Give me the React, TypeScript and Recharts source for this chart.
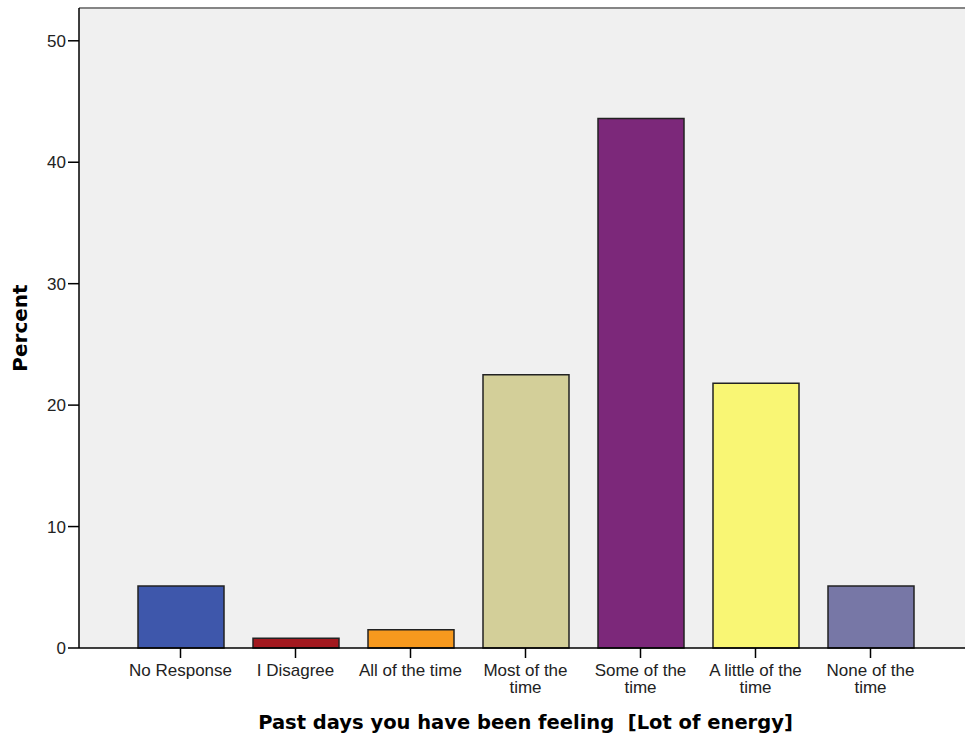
import React from 'react';
import { BarChart, Bar, XAxis, YAxis, Cell, ReferenceLine, CartesianGrid } from 'recharts';

const categories = [
  'No Response',
  'I Disagree',
  'All of the time',
  'Most of the time',
  'Some of the time',
  'A little of the time',
  'None of the time',
];
const tickLines: string[][] = [
  ['No Response'],
  ['I Disagree'],
  ['All of the time'],
  ['Most of the', 'time'],
  ['Some of the', 'time'],
  ['A little of the', 'time'],
  ['None of the', 'time'],
];
const percents = [5.1, 0.8, 1.5, 22.5, 43.6, 21.8, 5.1];
const barColors = ['#3E57AB', '#A2191F', '#F7991E', '#D3CF99', '#7C287A', '#F9F674', '#7777A6'];
const yTicks = [0, 10, 20, 30, 40, 50];
const yMax = 52.7;
const xTitle = 'Past days you have been feeling  [Lot of energy]';
const yTitle = 'Percent';

const data = categories.map((c, i) => ({ name: c, value: percents[i] }));

const tickFont = '"Liberation Sans", Arial, sans-serif';
const titleFont = '"DejaVu Sans", Verdana, sans-serif';

const XTick = (props: any) => {
  const { x, y, payload } = props;
  const idx = categories.indexOf(payload.value);
  const lines = idx >= 0 ? tickLines[idx] : [String(payload.value)];
  return (
    <g>
      {lines.map((ln, i) => (
        <text
          key={i}
          x={x}
          y={y + 16 + i * 17}
          textAnchor="middle"
          fontFamily={tickFont}
          fontSize={17}
          fill="#222"
        >
          {ln}
        </text>
      ))}
    </g>
  );
};

export default function App() {
  return (
    <div style={{ position: 'absolute', left: 0, top: 0, width: 965, height: 742, overflow: 'hidden', background: '#fff' }}>
      <BarChart
        width={1000}
        height={742}
        data={data}
        margin={{ top: 8, right: 28, bottom: 0, left: 0 }}
        barSize={86}
      >
        <CartesianGrid fill="#F0F0F0" horizontal={false} vertical={false} />
        <XAxis
          dataKey="name"
          height={94}
          padding={{ left: 44, right: 44 }}
          tickSize={10}
          tickMargin={2}
          axisLine={{ stroke: '#000', strokeWidth: 1.5 }}
          tickLine={{ stroke: '#000', strokeWidth: 1.5 }}
          tick={<XTick />}
          interval={0}
          label={(p: any) => {
            const vb = p.viewBox;
            return (
              <text
                x={vb.x + vb.width / 2}
                y={vb.y + 81}
                textAnchor="middle"
                fontFamily={titleFont}
                fontWeight="bold"
                fontSize={19.5}
                fill="#000"
                style={{ whiteSpace: 'pre' }}
                xmlSpace="preserve"
              >
                {xTitle}
              </text>
            );
          }}
        />
        <YAxis
          width={79}
          domain={[0, yMax]}
          ticks={yTicks}
          tickSize={11}
          tickMargin={2}
          axisLine={{ stroke: '#000', strokeWidth: 1.5 }}
          tickLine={{ stroke: '#000', strokeWidth: 1.5 }}
          tick={{ fontFamily: tickFont, fontSize: 17, fill: '#222' }}
          label={(p: any) => {
            const vb = p.viewBox;
            const cy = vb.y + vb.height / 2;
            return (
              <text
                x={27}
                y={cy}
                transform={`rotate(-90, 27, ${cy})`}
                textAnchor="middle"
                fontFamily={titleFont}
                fontWeight="bold"
                fontSize={20}
                fill="#000"
              >
                {yTitle}
              </text>
            );
          }}
        />
        <ReferenceLine y={yMax} stroke="#858585" strokeWidth={2} ifOverflow="extendDomain" />
        <Bar dataKey="value" stroke="#222" strokeWidth={1.5} isAnimationActive={false}>
          {data.map((d, i) => (
            <Cell key={d.name} fill={barColors[i]} />
          ))}
        </Bar>
      </BarChart>
    </div>
  );
}
